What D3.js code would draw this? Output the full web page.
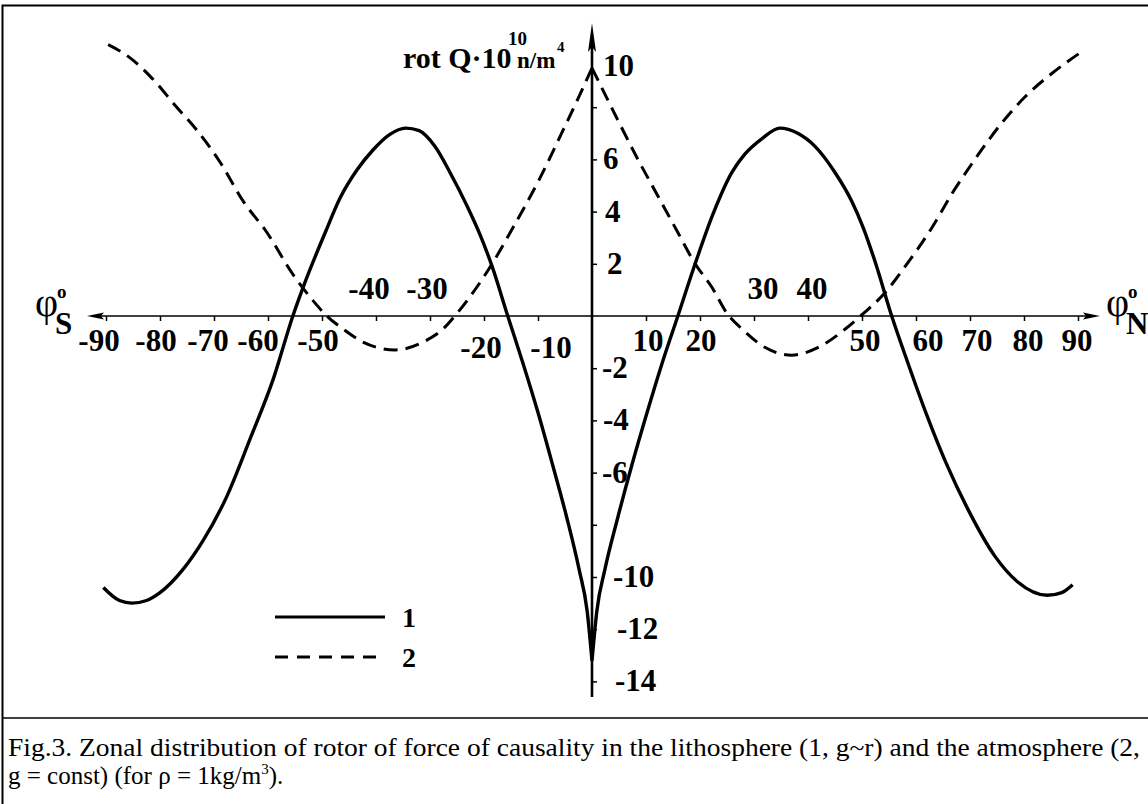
<!DOCTYPE html>
<html lang="en">
<head>
    <meta charset="UTF-8">
    <title>Zonal distribution of rotor of force of causality</title>
    <script src="https://d3js.org/d3.v7.min.js"></script>
    <style>
        body {
            margin: 0;
            background: #fff;
            overflow: hidden;
        }
        svg text {
            font-family: "Liberation Serif", "Times New Roman", Times, serif;
            fill: #000;
        }
        .lbl {
            font-weight: bold;
            font-size: 31px;
        }
    </style>
</head>
<body>
    <div id="chart"></div>

    <script>
        // latitude ticks (degrees) and rot Q ticks (x 10^10 n/m^4)
        const phiTicks = [-90, -80, -70, -60, -50, -40, -30, -20, -10, 10, 20, 30, 40, 50, 60, 70, 80, 90];
        const rotTicks = [8, 6, 4, 2, -2, -4, -6, -8, -10, -12, -14];
        const rotLabels = [10, 6, 4, 2, -2, -4, -6, -10, -12, -14];

        // curve 1: lithosphere (g ~ r), [phi, rot]
        const lithosphere = [
            [-90.5, -10.4], [-87.5, -10.9], [-85.2, -11.0], [-82.5, -10.9], [-80, -10.6],
            [-75.7, -9.7], [-72, -8.6], [-67.6, -6.9], [-63.3, -4.7], [-59, -2.4],
            [-55.4, 0], [-53.5, 1.1], [-49.4, 3.2], [-46.7, 4.5], [-43.5, 5.6],
            [-40.6, 6.35], [-37.5, 6.95], [-34.5, 7.2], [-32, 7.1], [-29.1, 6.5],
            [-26.3, 5.5], [-23.1, 4.2], [-20.7, 3.1], [-18.5, 1.9], [-15.6, 0],
            [-12.8, -1.8], [-10, -3.7], [-7.3, -5.7], [-4.7, -7.7], [-2.4, -9.7],
            [-0.9, -11.3], [0, -13.2],
            [0.9, -11.3], [2.4, -9.7], [4.8, -7.7], [7.4, -5.7], [10.2, -3.7],
            [13, -1.8], [15.9, 0], [19.1, 2.0], [22.4, 3.9], [25.9, 5.5],
            [28.3, 6.2], [31.5, 6.8], [34.8, 7.2], [38.1, 7.0], [41.3, 6.5],
            [45, 5.5], [48.1, 4.4], [50.2, 3.4], [52.4, 2.1], [55.5, 0],
            [58.5, -1.8], [62, -3.8], [65.5, -5.6], [69.6, -7.4], [74.6, -9.2],
            [78.9, -10.2], [84.3, -10.7], [87, -10.6], [89, -10.3]
        ];

        // curve 2: atmosphere (g = const), [phi, rot]
        const atmosphere = [
            [-89.6, 10.4], [-85.6, 9.9], [-81.9, 9.2], [-76.9, 8.0], [-73.1, 7.1],
            [-68.9, 5.9], [-64.6, 4.4], [-60.2, 3.2], [-55.4, 1.6], [-51.7, 0.6],
            [-49.1, 0], [-46.1, -0.5], [-42.4, -1.0], [-36.5, -1.3], [-31.3, -1.0],
            [-27.6, -0.5], [-25, 0.1], [-18.5, 2.0], [-14.6, 3.4], [-9.6, 5.3],
            [-5.4, 7.1], [-2.2, 8.5], [0, 9.5],
            [4.8, 7.5], [8.5, 6.0], [12.2, 4.6], [15.9, 3.2], [19.1, 2.0],
            [22.2, 1.1], [25, 0.1], [27.8, -0.5], [32, -1.2], [37, -1.5],
            [41.9, -1.2], [46.9, -0.5], [50, 0.05], [54.3, 0.9], [58, 1.9],
            [63, 3.4], [66.7, 4.7], [70.9, 6.0], [75.9, 7.4], [80.2, 8.4],
            [85.2, 9.3], [90.5, 10.1]
        ];

        const legendItems = ["1", "2"];
        const captionLines = [
            "Fig.3. Zonal distribution of rotor of force of causality in the lithosphere (1, g~r) and the atmosphere (2,",
            "g = const) (for \u03c1 = 1kg/m"
        ];

        const width = 1148;
        const height = 804;

        const svg = d3.select("#chart")
            .append("svg")
            .attr("width", width)
            .attr("height", height);

        const x = d3.scaleLinear().domain([-90, 90]).range([106, 1078]);
        const y = d3.scaleLinear().domain([-14, 10]).range([681.4, 55]);

        const x0 = x(0);
        const y0 = y(0);

        // frame
        svg.append("path")
            .attr("d", `M${width},5.5H2.5V${height}`)
            .attr("fill", "none")
            .attr("stroke", "#000")
            .attr("stroke-width", 2);
        svg.append("line")
            .attr("x1", 2).attr("x2", width)
            .attr("y1", 718).attr("y2", 718)
            .attr("stroke", "#000")
            .attr("stroke-width", 1.5);

        // x axis (ticks only, labels placed by hand like the original)
        const xAxis = svg.append("g")
            .attr("transform", `translate(0,${y0})`)
            .call(d3.axisBottom(x).tickValues(phiTicks).tickSize(5).tickFormat(""));
        xAxis.select(".domain").remove();
        xAxis.selectAll(".tick line").attr("stroke", "#000").attr("stroke-width", 1.5);

        svg.append("line")
            .attr("x1", 92).attr("x2", 1095)
            .attr("y1", y0).attr("y2", y0)
            .attr("stroke", "#000")
            .attr("stroke-width", 1.6);
        svg.append("path")
            .attr("d", `M87,${y0}L104,${y0 - 3.5}L101,${y0}L104,${y0 + 3.5}Z`);
        svg.append("path")
            .attr("d", `M1100,${y0}L1083,${y0 - 3.5}L1086,${y0}L1083,${y0 + 3.5}Z`);

        // y axis
        const yAxis = svg.append("g")
            .attr("transform", `translate(${x0},0)`)
            .call(d3.axisRight(y).tickValues(rotTicks).tickSize(5).tickFormat(""));
        yAxis.select(".domain").remove();
        yAxis.selectAll(".tick line").attr("stroke", "#000").attr("stroke-width", 1.5);

        svg.append("line")
            .attr("x1", x0).attr("x2", x0)
            .attr("y1", 40).attr("y2", 697)
            .attr("stroke", "#000")
            .attr("stroke-width", 2.6);
        svg.append("path")
            .attr("d", `M${x0},23L${x0 + 4},52L${x0},47L${x0 - 4},52Z`);

        // x tick labels: some sit above the axis, some are nudged off the curves
        const above = [-40, -30, 30, 40];
        const lower = [-20, -10];
        const xNudge = {"-90": -7, "-80": -4, "-70": -6, "-60": -10, "-50": -4, "-40": -7, "-30": -3,
            "-20": -3, "-10": 13, "10": 2, "20": 1, "30": 9, "40": 4, "50": 3, "60": 12, "70": 7, "80": 4, "90": -1};

        svg.append("g")
            .selectAll("text")
            .data(phiTicks)
            .enter()
            .append("text")
            .attr("class", "lbl")
            .attr("text-anchor", "middle")
            .attr("x", d => x(d) + xNudge[d])
            .attr("y", d => above.includes(d) ? y0 - 17 : (lower.includes(d) ? y0 + 42 : y0 + 35))
            .text(d => d);

        // y tick labels
        const yNudge = {"10": 11, "6": 11, "4": 13, "2": 15, "-2": 10, "-4": 11, "-6": 10, "-10": 21, "-12": 25, "-14": 23};
        svg.append("g")
            .selectAll("text")
            .data(rotLabels)
            .enter()
            .append("text")
            .attr("class", "lbl")
            .attr("x", d => x0 + yNudge[d])
            .attr("y", d => y(d) + 10 + (d === 10 ? 11 : 0))
            .text(d => d);

        // axis titles
        svg.append("text")
            .attr("x", 403)
            .attr("y", 68)
            .style("font-weight", "bold")
            .style("font-size", "30px")
            .text("rot Q\u00b710");
        svg.append("text")
            .attr("x", 508).attr("y", 45)
            .style("font-weight", "bold").style("font-size", "19px")
            .text("10");
        svg.append("text")
            .attr("x", 517).attr("y", 68)
            .style("font-weight", "bold").style("font-size", "23px")
            .text("n/m");
        svg.append("text")
            .attr("x", 557).attr("y", 52)
            .style("font-weight", "bold").style("font-size", "15px")
            .text("4");

        function phiTitle(px, sub) {
            svg.append("text")
                .attr("x", px).attr("y", 316)
                .style("font-size", "40px")
                .text("\u03c6");
            svg.append("text")
                .attr("x", px + 22).attr("y", 298)
                .style("font-weight", "bold").style("font-size", "19px")
                .text("o");
            svg.append("text")
                .attr("x", px + 20).attr("y", 334)
                .style("font-weight", "bold").style("font-size", "31px")
                .text(sub);
        }
        phiTitle(35, "S");
        phiTitle(1106, "N");

        // curves, split at the equator so the cusps stay sharp
        const line = d3.line()
            .x(d => x(d[0]))
            .y(d => y(d[1]))
            .curve(d3.curveMonotoneX);

        function drawSeries(data, dash, w) {
            [data.filter(d => d[0] <= 0), data.filter(d => d[0] >= 0)].forEach(part => {
                svg.append("path")
                    .datum(part)
                    .attr("d", line)
                    .attr("fill", "none")
                    .attr("stroke", "#000")
                    .attr("stroke-width", w)
                    .attr("stroke-linejoin", "round")
                    .style("stroke-dasharray", dash);
            });
        }
        drawSeries(lithosphere, null, 3.4);
        drawSeries(atmosphere, "14,8", 3);

        // legend
        const legend = svg.append("g");
        legendItems.forEach((name, i) => {
            const ly = 617 + i * 40;
            legend.append("line")
                .attr("x1", 275).attr("x2", 385)
                .attr("y1", ly).attr("y2", ly)
                .attr("stroke", "#000")
                .attr("stroke-width", 3)
                .style("stroke-dasharray", i === 1 ? "13,9" : null);
            legend.append("text")
                .attr("class", "lbl")
                .attr("x", 402)
                .attr("y", ly + 10)
                .style("font-size", "28px")
                .text(name);
        });

        // caption
        const cap = svg.append("g").style("font-size", "25px");
        cap.append("text")
            .attr("x", 8).attr("y", 756)
            .attr("textLength", 1132)
            .attr("lengthAdjust", "spacingAndGlyphs")
            .text(captionLines[0]);
        const cap2 = cap.append("text")
            .attr("x", 8).attr("y", 784);
        cap2.append("tspan").text(captionLines[1]);
        cap2.append("tspan").attr("dy", -10).style("font-size", "15px").text("3");
        cap2.append("tspan").attr("dy", 10).text(").");
    </script>
</body>
</html>
